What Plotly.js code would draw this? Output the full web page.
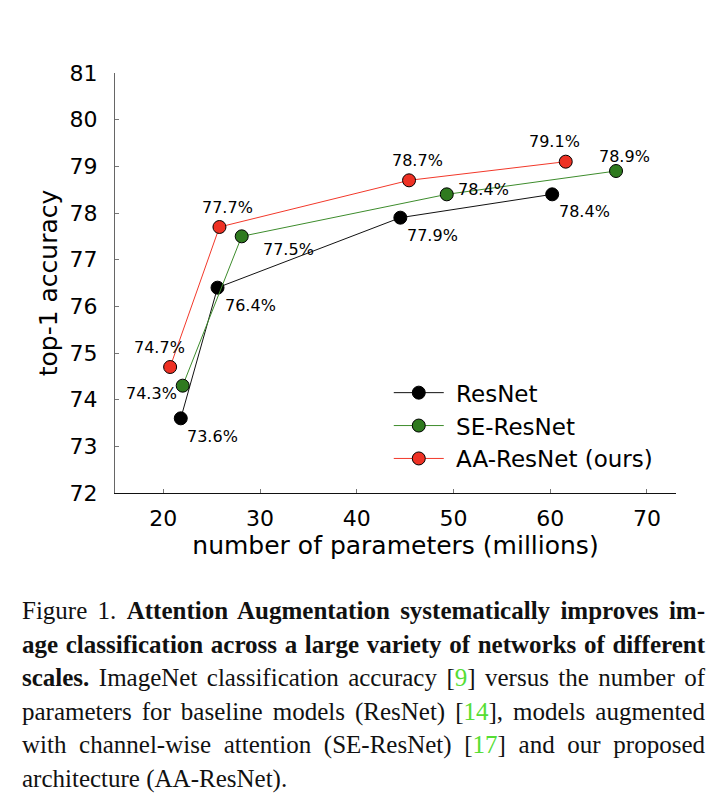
<!DOCTYPE html>
<html>
<head>
<meta charset="utf-8">
<script src="https://cdn.plot.ly/plotly-3.0.1.min.js"></script>
<style>
  html, body { margin: 0; padding: 0; background: #fff; }
  #wrap { position: relative; width: 726px; height: 800px; }
  #chart { position: absolute; left: 0; top: 0; width: 726px; height: 575px; }
  #caption { position: absolute; left: 22px; top: 594px; width: 683px;
    font-family: "Liberation Serif", "Times New Roman", serif; font-size: 25px;
    line-height: 33.5px; color: #111; }
  #caption .ln { text-align: justify; text-align-last: justify; white-space: nowrap; }
  #caption .ln.last { text-align-last: left; }
  #caption .ref { color: #55dd33; }
</style>
</head>
<body>
<div id="wrap">
  <div id="chart"></div>
  <div id="caption">
    <div class="ln">Figure 1. <b>Attention Augmentation systematically improves im-</b></div>
    <div class="ln"><b>age classification across a large variety of networks of different</b></div>
    <div class="ln"><b>scales.</b> ImageNet classification accuracy [<span class="ref">9</span>] versus the number of</div>
    <div class="ln">parameters for baseline models (ResNet) [<span class="ref">14</span>], models augmented</div>
    <div class="ln">with channel-wise attention (SE-ResNet) [<span class="ref">17</span>] and our proposed</div>
    <div class="ln last">architecture (AA-ResNet).</div>
  </div>
</div>
<script>
// ---- data ----
const seriesNames = ["ResNet", "SE-ResNet", "AA-ResNet (ours)"];
const resnetParams = [21.8, 25.6, 44.5, 60.2];
const resnetAcc    = [73.6, 76.4, 77.9, 78.4];
const seParams     = [22.0, 28.1, 49.3, 66.8];
const seAcc        = [74.3, 77.5, 78.4, 78.9];
const aaParams     = [20.7, 25.8, 45.4, 61.6];
const aaAcc        = [74.7, 77.7, 78.7, 79.1];
const xTicks = [20, 30, 40, 50, 60, 70];
const yTicks = [72, 73, 74, 75, 76, 77, 78, 79, 80, 81];

// ---- styles ----
const markerColors = ["#000000", "#2f7a1f", "#ee3124"];
const lineColors   = ["#111111", "#3d8c2c", "#f2382a"];
// label offsets in pixels [dx, dy(up positive)] per point
const resnetShift = [[32, -18], [33, -18], [32, -18], [32, -17]];
const seShift     = [[-31, -8], [47, -13], [37, 5], [8, 15]];
const aaShift     = [[-11, 20], [8, 20], [8, 20], [-11, 20]];

const xs = [resnetParams, seParams, aaParams];
const ys = [resnetAcc, seAcc, aaAcc];
const shifts = [resnetShift, seShift, aaShift];

const font = "DejaVu Sans, Verdana, sans-serif";

const traces = xs.map((x, i) => ({
  x: x, y: ys[i], name: "\u00a0" + seriesNames[i], type: "scatter", mode: "lines+markers",
  line: { color: lineColors[i], width: 1 },
  marker: { color: markerColors[i], size: 13, line: { color: "#000", width: 1 } },
  hoverinfo: "x+y"
}));

const annotations = [];
xs.forEach((x, i) => {
  x.forEach((xv, j) => {
    annotations.push({
      x: xv, y: ys[i][j], xref: "x", yref: "y",
      text: ys[i][j].toFixed(1) + "%", showarrow: false,
      xshift: shifts[i][j][0], yshift: shifts[i][j][1],
      font: { family: font, size: 16, color: "#000" }
    });
  });
});

const layout = {
  width: 726, height: 575,
  margin: { l: 115, r: 50, t: 73, b: 82 },
  paper_bgcolor: "#fff", plot_bgcolor: "#fff",
  font: { family: font, color: "#000" },
  showlegend: true,
  legend: {
    x: 0.488, y: 0.29, xanchor: "left", yanchor: "top",
    font: { family: font, size: 23, color: "#000" },
    bgcolor: "rgba(0,0,0,0)", itemwidth: 50
  },
  xaxis: {
    range: [15, 73], tickvals: xTicks, ticks: "inside", ticklen: 4, tickcolor: "#777",
    showgrid: false, zeroline: false, showline: true, linecolor: "#111", linewidth: 1,
    tickfont: { family: font, size: 22, color: "#000" },
    title: { text: "number of parameters (millions)", font: { family: font, size: 25, color: "#000" }, standoff: 3 },
    ticklabelstandoff: 6
  },
  yaxis: {
    range: [72, 81], tickvals: yTicks, ticks: "inside", ticklen: 4, tickcolor: "#777",
    showgrid: false, zeroline: false, showline: true, linecolor: "#666", linewidth: 1,
    tickfont: { family: font, size: 22, color: "#000" },
    title: { text: "top-1 accuracy", font: { family: font, size: 25, color: "#000" }, standoff: 4 },
    ticklabelstandoff: 12
  },
  annotations: annotations
};

Plotly.newPlot("chart", traces, layout, { displayModeBar: false, staticPlot: true });
</script>
</body>
</html>
